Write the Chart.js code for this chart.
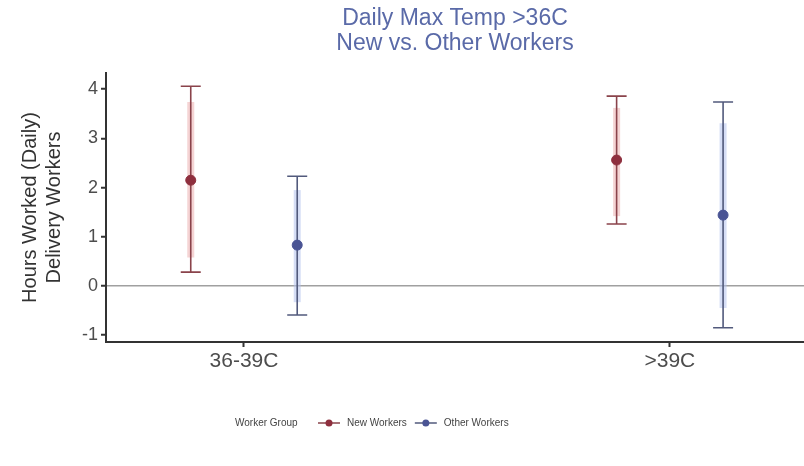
<!DOCTYPE html>
<html>
<head>
<meta charset="utf-8">
<script src="https://cdn.jsdelivr.net/npm/chart.js@4.4.1/dist/chart.umd.min.js"></script>
<style>
	html, body { margin: 0; padding: 0; background: #fff; }
	#wrap { width: 804px; height: 466px; }
</style>
</head>
<body>
<div id="wrap"><canvas id="chart"></canvas></div>
<script>
// categories on the x axis
const categories = ['36-39C', '>39C']
const yTicks = [-1, 0, 1, 2, 3, 4]

// New Workers: estimate, 95% interval, inner (90%) interval
const newEst = [2.15, 2.56]
const newLo95 = [0.28, 1.26]
const newHi95 = [4.06, 3.86]
const newLo90 = [0.58, 1.42]
const newHi90 = [3.74, 3.62]

// Other Workers
const otherEst = [0.83, 1.44]
const otherLo95 = [-0.59, -0.85]
const otherHi95 = [2.23, 3.74]
const otherLo90 = [-0.33, -0.45]
const otherHi90 = [1.95, 3.31]

const dodge = 0.125
const FONT = "'Liberation Sans', Arial, sans-serif"

const series = [
	{
		name: 'New Workers', offset: -dodge,
		est: newEst, lo95: newLo95, hi95: newHi95, lo90: newLo90, hi90: newHi90,
		point: '#8e2f3e', whisker: '#8a434b', band: 'rgba(236, 170, 170, 0.5)'
	},
	{
		name: 'Other Workers', offset: dodge,
		est: otherEst, lo95: otherLo95, hi95: otherHi95, lo90: otherLo90, hi90: otherHi90,
		point: '#4a5494', whisker: '#525a7c', band: 'rgba(180, 194, 238, 0.55)'
	}
]

// error bars drawn through the chart's own scales
const errorBars = {
	id: 'errorBars',
	beforeDatasetsDraw(chart) {
		const { ctx, scales: { x, y } } = chart
		ctx.save()
		series.forEach(s => {
			s.est.forEach((_, i) => {
				const px = x.getPixelForValue(i + 1 + s.offset)
				// inner band
				ctx.strokeStyle = s.band
				ctx.lineWidth = 7
				ctx.beginPath()
				ctx.moveTo(px, y.getPixelForValue(s.hi90[i]))
				ctx.lineTo(px, y.getPixelForValue(s.lo90[i]))
				ctx.stroke()
				// whisker with caps
				const top = y.getPixelForValue(s.hi95[i])
				const bot = y.getPixelForValue(s.lo95[i])
				ctx.strokeStyle = s.whisker
				ctx.lineWidth = 1.6
				ctx.beginPath()
				ctx.moveTo(px, top); ctx.lineTo(px, bot)
				ctx.moveTo(px - 10, top); ctx.lineTo(px + 10, top)
				ctx.moveTo(px - 10, bot); ctx.lineTo(px + 10, bot)
				ctx.stroke()
			})
		})
		ctx.restore()
	}
}

// ggplot-style legend row under the plot
const bottomLegend = {
	id: 'bottomLegend',
	afterDraw(chart) {
		const { ctx } = chart
		const yc = 423
		ctx.save()
		ctx.font = '10px ' + FONT
		ctx.fillStyle = '#444'
		ctx.textBaseline = 'middle'
		ctx.textAlign = 'left'
		ctx.fillText('Worker Group', 235, yc)
		let xk = 318
		series.forEach(s => {
			ctx.strokeStyle = s.whisker
			ctx.lineWidth = 1.5
			ctx.beginPath()
			ctx.moveTo(xk, yc); ctx.lineTo(xk + 22, yc)
			ctx.stroke()
			ctx.fillStyle = s.point
			ctx.beginPath()
			ctx.arc(xk + 11, yc, 3.5, 0, Math.PI * 2)
			ctx.fill()
			ctx.fillStyle = '#444'
			ctx.fillText(s.name, xk + 29, yc)
			xk += 29 + ctx.measureText(s.name).width + 8
		})
		ctx.restore()
	}
}

new Chart(document.getElementById('chart'), {
	type: 'scatter',
	data: {
		datasets: series.map(s => ({
			label: s.name,
			data: s.est.map((v, i) => ({ x: i + 1 + s.offset, y: v })),
			backgroundColor: s.point,
			borderColor: s.point,
			pointRadius: 5,
			pointHoverRadius: 5
		}))
	},
	options: {
		responsive: true,
		maintainAspectRatio: false,
		animation: false,
		layout: { autoPadding: false, padding: { left: 0, right: 0, top: 0, bottom: 84 } },
		plugins: {
			legend: { display: false },
			tooltip: { enabled: false },
			title: {
				display: true,
				fullSize: false,
				text: ['Daily Max Temp >36C', 'New vs. Other Workers'],
				color: '#5a6aa8',
				font: { family: FONT, size: 23, weight: 'normal', lineHeight: '25px' },
				padding: { top: 6, bottom: 17 }
			}
		},
		scales: {
			x: {
				type: 'linear',
				min: 0.676,
				max: 2.315,
				afterBuildTicks: axis => { axis.ticks = categories.map((_, i) => ({ value: i + 1 })) },
				afterFit: axis => { axis.height = 40 },
				ticks: {
					callback: v => categories[v - 1],
					color: '#4d4d4d',
					font: { family: FONT, size: 21 },
					padding: 2
				},
				grid: { drawOnChartArea: false, tickLength: 5, tickColor: '#333', tickWidth: 2 },
				border: { display: true, color: '#333', width: 2 }
			},
			y: {
				min: -1.14,
				max: 4.33,
				afterBuildTicks: axis => { axis.ticks = yTicks.map(v => ({ value: v })) },
				afterFit: axis => { axis.width = 106 },
				ticks: {
					color: '#4d4d4d',
					font: { family: FONT, size: 18 },
					padding: 3
				},
				grid: {
					color: c => (c.tick && c.tick.value === 0 ? '#a0a0a0' : 'rgba(0,0,0,0)'),
					lineWidth: 1.5,
					tickLength: 5,
					tickColor: '#333',
					tickWidth: 2
				},
				border: { display: true, color: '#333', width: 2 },
				title: {
					display: true,
					text: ['Hours Worked (Daily)', 'Delivery Workers'],
					color: '#333',
					font: { family: FONT, size: 20, lineHeight: '24px' },
					padding: { top: 18, bottom: 0 }
				}
			}
		}
	},
	plugins: [errorBars, bottomLegend]
})
</script>
</body>
</html>
